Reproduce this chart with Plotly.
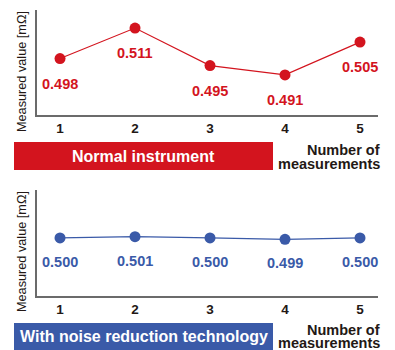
import plotly.graph_objects as go

measurements = [1, 2, 3, 4, 5]
normal_values = [0.498, 0.511, 0.495, 0.491, 0.505]
noise_red_values = [0.500, 0.501, 0.500, 0.499, 0.500]
tick_labels = ["1", "2", "3", "4", "5"]
normal_label = "Normal instrument"
noise_label = "With noise reduction technology"
y_title = "Measured value [mΩ]"
x_title_lines = ["Number of", "measurements"]

RED = "#d3141e"
BLUE = "#3a5aa8"
DARK = "#231815"
AXIS = "#6b6b6b"
FONT = "Liberation Sans, Arial, sans-serif"

W, H = 395, 350

def px_y(p):
    return 1 - p / H

def px_x(p):
    return p / W

fig = go.Figure()

fig.add_trace(go.Scatter(
    x=measurements, y=normal_values, mode="lines+markers",
    line=dict(color=RED, width=1.2), marker=dict(color=RED, size=11),
    xaxis="x", yaxis="y", showlegend=False, hoverinfo="skip"))
fig.add_trace(go.Scatter(
    x=measurements, y=noise_red_values, mode="lines+markers",
    line=dict(color=BLUE, width=1.2), marker=dict(color=BLUE, size=11),
    xaxis="x2", yaxis="y2", showlegend=False, hoverinfo="skip"))

xdom = [px_x(37), px_x(378)]
axis_common = dict(showgrid=False, zeroline=False, showline=True,
                   linecolor=AXIS, linewidth=1.5, fixedrange=True)
tickfont = dict(size=13.5, color=DARK, family=FONT, weight="bold")

fig.update_layout(
    width=W, height=H,
    margin=dict(l=0, r=0, t=0, b=0),
    paper_bgcolor="white", plot_bgcolor="white",
    font=dict(family=FONT, color=DARK),
    xaxis=dict(domain=xdom, range=[0.693, 5.24], anchor="y",
               tickvals=measurements, ticktext=tick_labels, ticks="",
               tickfont=tickfont, **axis_common),
    yaxis=dict(domain=[px_y(115), px_y(10)], range=[0.4739, 0.5187], anchor="x",
               showticklabels=False, ticks="", **axis_common),
    xaxis2=dict(domain=xdom, range=[0.693, 5.24], anchor="y2",
                tickvals=measurements, ticktext=tick_labels, ticks="",
                tickfont=tickfont, **axis_common),
    yaxis2=dict(domain=[px_y(296), px_y(190)], range=[0.4562, 0.5362], anchor="x2",
                showticklabels=False, ticks="", **axis_common),
)

annotations = []
for xv, v in zip(measurements, normal_values):
    annotations.append(dict(x=xv, y=v, xref="x", yref="y", text=f"{v:.3f}",
                            showarrow=False, yshift=-25,
                            font=dict(size=14.5, color=RED, family=FONT, weight="bold")))
for xv, v in zip(measurements, noise_red_values):
    annotations.append(dict(x=xv, y=v, xref="x2", yref="y2", text=f"{v:.3f}",
                            showarrow=False, yshift=-24,
                            font=dict(size=14.5, color=BLUE, family=FONT, weight="bold")))

# y-axis titles
for cy in (72, 252):
    annotations.append(dict(x=px_x(22), y=px_y(cy), xref="paper", yref="paper",
                            text=y_title, textangle=-90, showarrow=False,
                            xanchor="center", yanchor="middle",
                            font=dict(size=12.7, color=DARK, family=FONT)))

# x-axis titles (two lines each, tight spacing)
for cy1, cy2 in ((150, 164), (330, 343)):
    for cy, line in zip((cy1, cy2), x_title_lines):
        annotations.append(dict(x=px_x(382), y=px_y(cy), xref="paper", yref="paper",
                                text=line, showarrow=False, xanchor="right",
                                yanchor="middle",
                                font=dict(size=14.5, color=DARK, family=FONT, weight="bold")))

# banner labels
annotations.append(dict(x=px_x(143.5), y=px_y(156), xref="paper", yref="paper",
                        text=normal_label, showarrow=False, yanchor="middle",
                        font=dict(size=16, color="white", family=FONT, weight="bold")))
annotations.append(dict(x=px_x(143.5), y=px_y(336.5), xref="paper", yref="paper",
                        text=noise_label, showarrow=False, yanchor="middle",
                        font=dict(size=16, color="white", family=FONT, weight="bold")))

fig.update_layout(annotations=annotations)

fig.update_layout(shapes=[
    dict(type="rect", xref="paper", yref="paper", x0=px_x(14), x1=px_x(273),
         y0=px_y(170), y1=px_y(142), fillcolor=RED, line=dict(width=0), layer="below"),
    dict(type="rect", xref="paper", yref="paper", x0=px_x(14), x1=px_x(273),
         y0=px_y(350), y1=px_y(323), fillcolor=BLUE, line=dict(width=0), layer="below"),
])

fig.write_html("out.html", config=dict(displayModeBar=False),
               post_script="document.body.style.margin='0';document.body.style.overflow='hidden';")
